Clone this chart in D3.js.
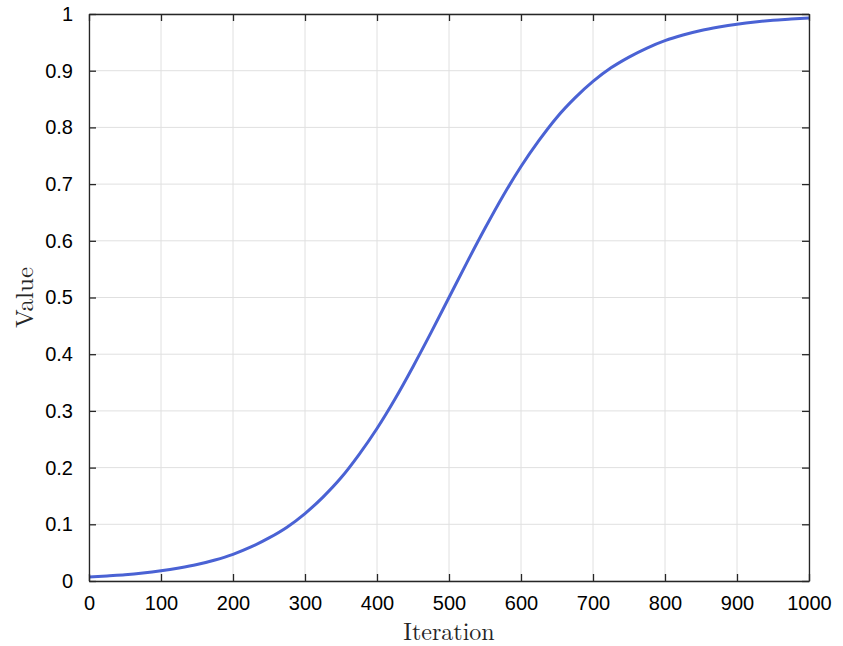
<!DOCTYPE html>
<html>
<head>
<meta charset="utf-8">
<script src="https://cdn.jsdelivr.net/npm/d3@7"></script>
<style>
  body { margin: 0; background: #fff; }
  svg { display: block; }
</style>
</head>
<body>
<svg id="chart"></svg>
<script>
const iterations = [0, 25, 50, 75, 100, 125, 150, 175, 200, 225, 250, 275, 300, 325, 350, 375, 400,
  425, 450, 475, 500, 525, 550, 575, 600, 625, 650, 675, 700, 725, 750, 775, 800, 825, 850, 875, 900,
  925, 950, 975, 1000];
const values = [0.007, 0.009, 0.011, 0.014, 0.018, 0.023, 0.029, 0.037, 0.047, 0.060, 0.076, 0.095,
  0.119, 0.148, 0.182, 0.223, 0.269, 0.321, 0.378, 0.438, 0.500, 0.562, 0.622, 0.679, 0.731, 0.777,
  0.818, 0.852, 0.881, 0.905, 0.924, 0.940, 0.953, 0.963, 0.971, 0.977, 0.982, 0.986, 0.989, 0.991, 0.993];
const xTicks = [0, 100, 200, 300, 400, 500, 600, 700, 800, 900, 1000];
const yTicks = [0, 0.1, 0.2, 0.3, 0.4, 0.5, 0.6, 0.7, 0.8, 0.9, 1];

const width = 843, height = 646;
const margin = { top: 14, right: 34, bottom: 65, left: 89 };
const w = width - margin.left - margin.right;
const h = height - margin.top - margin.bottom;

const svg = d3.select("#chart").attr("width", width).attr("height", height);
const g = svg.append("g").attr("transform", `translate(${margin.left},${margin.top})`);

const x = d3.scaleLinear().domain([0, 1000]).range([0, w]);
const y = d3.scaleLinear().domain([0, 1]).range([h, 0]);

// grid
g.append("g").selectAll("line").data(xTicks).enter().append("line")
  .attr("x1", d => x(d)).attr("x2", d => x(d)).attr("y1", 0).attr("y2", h)
  .attr("stroke", "#e0e0e0").attr("stroke-width", 1);
g.append("g").selectAll("line").data(yTicks).enter().append("line")
  .attr("y1", d => y(d)).attr("y2", d => y(d)).attr("x1", 0).attr("x2", w)
  .attr("stroke", "#e0e0e0").attr("stroke-width", 1);

// curve
const data = iterations.map((it, i) => ({ it: it, v: values[i] }));
g.append("path").datum(data)
  .attr("fill", "none")
  .attr("stroke", "#4a62d4")
  .attr("stroke-width", 3)
  .attr("d", d3.line().x(d => x(d.it)).y(d => y(d.v)).curve(d3.curveMonotoneX));

// axes (inward ticks, box)
const font = "'Liberation Sans', Arial, Helvetica, sans-serif";
function styleAxis(sel) {
  sel.select(".domain").attr("stroke", "#262626").attr("stroke-width", 1.3);
  sel.selectAll(".tick line").attr("stroke", "#262626").attr("stroke-width", 1.3);
  sel.selectAll("text").attr("fill", "#000").style("font-size", "20px").style("font-family", font);
}
g.append("g").attr("transform", `translate(0,${h})`)
  .call(d3.axisBottom(x).tickValues(xTicks).tickSize(-7).tickSizeOuter(0).tickPadding(15).tickFormat(d3.format("d")))
  .call(styleAxis);
g.append("g")
  .call(d3.axisTop(x).tickValues(xTicks).tickSize(-7).tickSizeOuter(0).tickFormat(""))
  .call(styleAxis);
g.append("g")
  .call(d3.axisLeft(y).tickValues(yTicks).tickSize(-7).tickSizeOuter(0).tickPadding(16).tickFormat(d => d3.format("~g")(d)))
  .call(styleAxis);
g.append("g").attr("transform", `translate(${w},0)`)
  .call(d3.axisRight(y).tickValues(yTicks).tickSize(-7).tickSizeOuter(0).tickFormat(""))
  .call(styleAxis);

// axis titles
const serif = "'Latin Modern Roman', 'Liberation Serif', 'DejaVu Serif', serif";
svg.append("text")
  .attr("x", margin.left + w / 2).attr("y", 640)
  .attr("text-anchor", "middle")
  .style("font-family", serif).style("font-size", "24px").attr("fill", "#262626")
  .text("Iteration");
svg.append("text")
  .attr("transform", `translate(33,${margin.top + h / 2}) rotate(-90)`)
  .attr("text-anchor", "middle")
  .style("font-family", serif).style("font-size", "25px").attr("fill", "#262626")
  .text("Value");
</script>
</body>
</html>
